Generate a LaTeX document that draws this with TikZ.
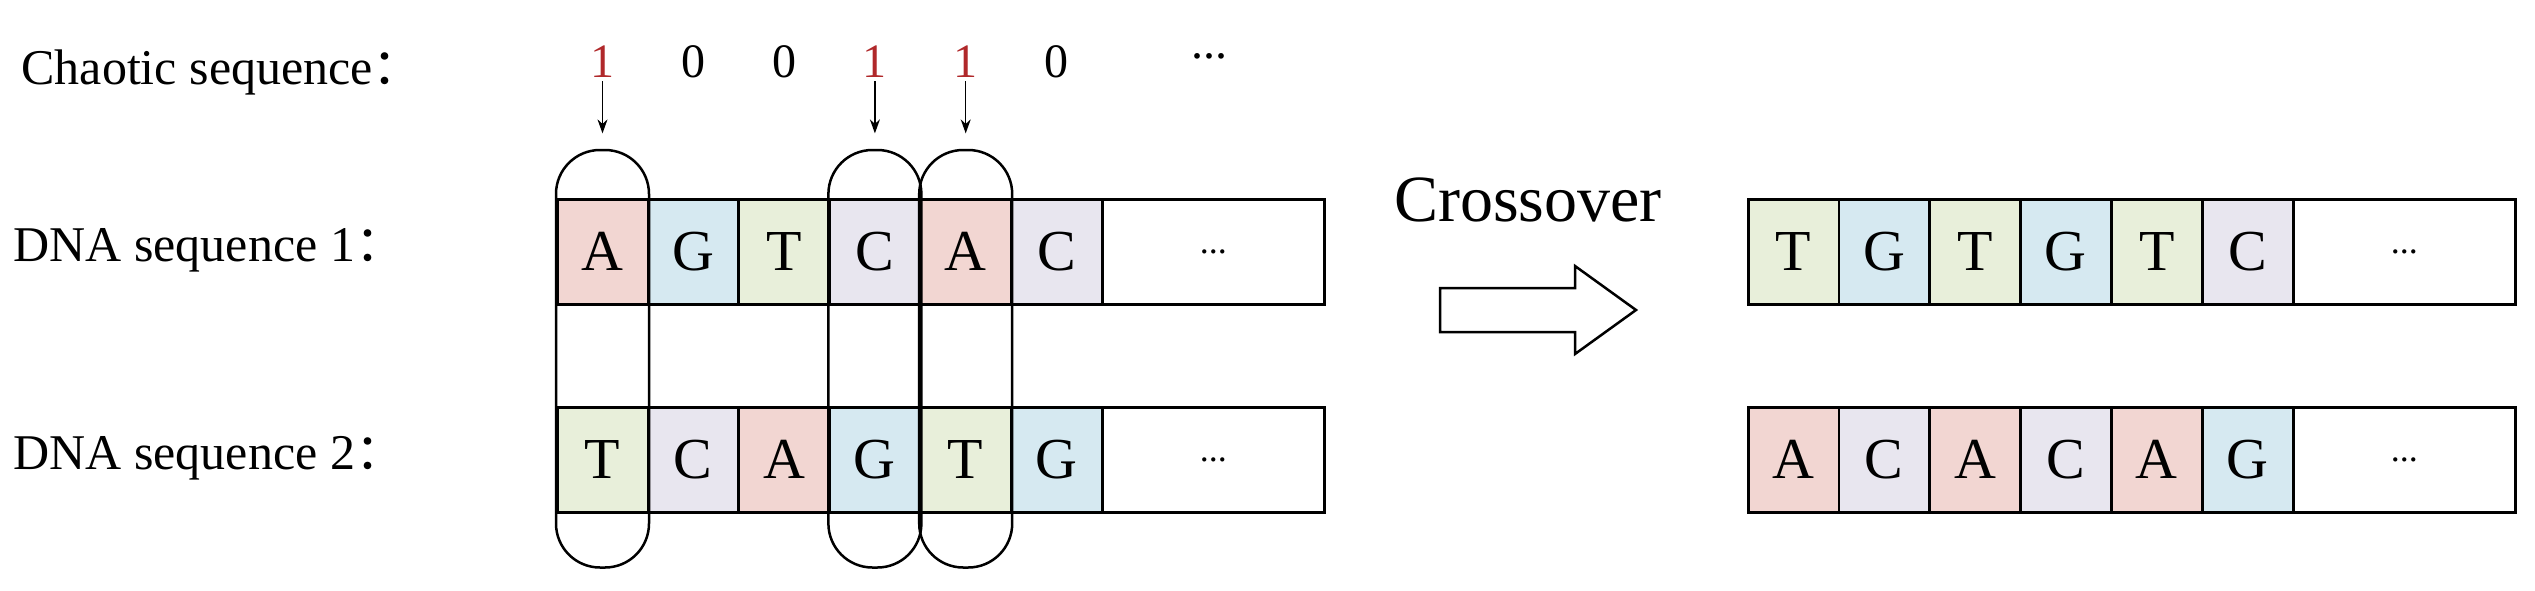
\documentclass[tikz,border=0pt]{standalone}
\usepackage{fontspec}
\setmainfont{Liberation Serif}
\newfontfamily\cjk{Noto Sans CJK SC}
\usetikzlibrary{calc,arrows.meta}
\definecolor{cA}{HTML}{F2D6D2}
\definecolor{cG}{HTML}{D6E9F1}
\definecolor{cT}{HTML}{E8EFDA}
\definecolor{cC}{HTML}{E8E6EF}
\definecolor{red1}{HTML}{B0282A}
\begin{document}
\begin{tikzpicture}[x=1pt,y=-1pt,
  cell/.style={draw,line width=2.5pt,minimum width=90.5pt,minimum height=105pt,inner sep=0,anchor=north west,font=\fontsize{58}{60}\selectfont},
  dots/.style={draw,line width=2.5pt,minimum height=105pt,inner sep=0,anchor=north west,font=\fontsize{36}{36}\selectfont},
  lab/.style={anchor=west,font=\fontsize{50}{54}\selectfont},
  dig/.style={font=\fontsize{48}{50}\selectfont},
  caps/.style={draw,line width=2.5pt,rounded corners=44pt},
  ar/.style={-{Stealth[length=14pt,width=10pt]},line width=1.5pt}]
\useasboundingbox (0,0) rectangle (2535,590);
\node[lab] (l0) at (18,72) {Chaotic sequence{\cjk ：}};
\node[lab] (l1) at (10,250) {DNA sequence 1{\cjk ：}};
\node[lab] (l2) at (10,458) {DNA sequence 2{\cjk ：}};
\coordinate (dy) at (0,62);
% left sequences
\foreach \c/\col [count=\i from 0] in {A/cA,G/cG,T/cT,C/cC,A/cA,C/cC}
  \node[cell,fill=\col] (a\i) at (556+\i*90.8,198) {\c};
\node[dots,minimum width=222pt] (ad) at (1101,198) {...};
\foreach \c/\col [count=\i from 0] in {T/cT,C/cC,A/cA,G/cG,T/cT,G/cG}
  \node[cell,fill=\col] (b\i) at (556+\i*90.8,406) {\c};
\node[dots,minimum width=222pt] (bd) at (1101,406) {...};
% capsules
\draw[caps] ($(a0.north west)+(0,-48)$) rectangle ($(b0.south east)+(0,54)$);
\draw[caps] ($(a3.north west)+(0,-48)$) rectangle ($(b3.south east)+(0,54)$);
\draw[caps] ($(a4.north west)+(0,-48)$) rectangle ($(b4.south east)+(0,54)$);
% digits
\foreach \d/\col [count=\i from 0] in {1/red1,0/black,0/black,1/red1,1/red1,0/black}
  \node[dig,text=\col] (d\i) at (a\i.center |- dy) {\d};
\node[dig] (dd) at (1209,56) {...};
\draw[ar] (d0.south) -- ++(0,52) coordinate (e0);
\draw[ar] (d3.south) -- ++(0,52) coordinate (e3);
\draw[ar] (d4.south) -- ++(0,52) coordinate (e4);
% crossover
\node[font=\fontsize{66}{68}\selectfont] (cx) at (1528,200) {Crossover};
\draw[line width=2.5pt,line join=miter] (1440,288) -- (1575,288) -- (1575,266) -- (1636,310)
  -- (1575,354) -- (1575,332) -- (1440,332) -- cycle;
% right sequences
\foreach \c/\col [count=\i from 0] in {T/cT,G/cG,T/cT,G/cG,T/cT,C/cC}
  \node[cell,fill=\col] (r\i) at (1747+\i*90.8,198) {\c};
\node[dots,minimum width=222pt] (rd) at (2292,198) {...};
\foreach \c/\col [count=\i from 0] in {A/cA,C/cC,A/cA,C/cC,A/cA,G/cG}
  \node[cell,fill=\col] (s\i) at (1747+\i*90.8,406) {\c};
\node[dots,minimum width=222pt] (sd) at (2292,406) {...};
\end{tikzpicture}
\end{document}
